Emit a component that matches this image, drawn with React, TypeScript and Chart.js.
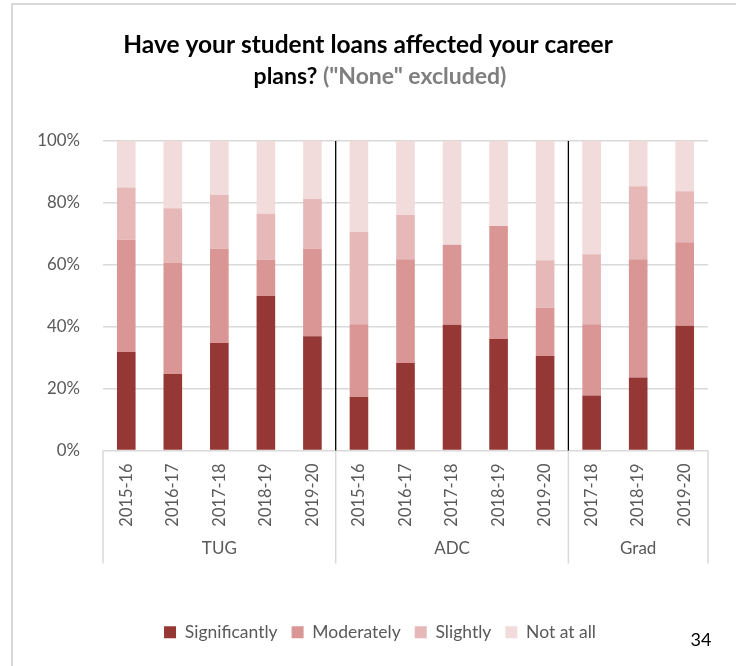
import React, { useEffect, useRef } from "react";
import { Chart, registerables } from "chart.js";

Chart.register(...registerables);

const categories = [
  "2015-16", "2016-17", "2017-18", "2018-19", "2019-20",
  "2015-16", "2016-17", "2017-18", "2018-19", "2019-20",
  "2017-18", "2018-19", "2019-20",
];
const groups = ["TUG", "ADC", "Grad"];
const groupSizes = [5, 5, 3];

const significantly = [31.8, 24.7, 34.7, 49.9, 36.9, 17.3, 28.3, 40.6, 36.0, 30.5, 17.8, 23.6, 40.3];
const moderately = [36.3, 35.9, 30.5, 11.7, 28.3, 23.5, 33.5, 25.9, 36.5, 15.6, 23.0, 38.2, 27.0];
const slightly = [16.9, 17.7, 17.4, 14.9, 16.1, 29.8, 14.3, 0, 0, 15.4, 22.6, 23.6, 16.5];
const notAtAll = [15.0, 21.7, 17.4, 23.5, 18.7, 29.4, 23.9, 33.5, 27.5, 38.5, 36.6, 14.6, 16.2];

const seriesNames = ["Significantly", "Moderately", "Slightly", "Not at all"];
const seriesColors = ["#953735", "#d99694", "#e6b9b8", "#f2dcdb"];

const yTicks = [0, 20, 40, 60, 80, 100];

const titleLine1 = "Have your student loans affected your career";
const titleLine2a = "plans?";
const titleLine2b = '("None" excluded)';
const pageNumber = "34";

const FONT = "Lato, 'Open Sans', sans-serif";

const decorPlugin = {
  id: "decor",
  afterLayout(chart: any) {
    const lg = chart.legend;
    if (lg) {
      lg.left += 26;
      lg.right += 26;
    }
  },
  beforeDraw(chart: any) {
    const ctx = chart.ctx;
    ctx.save();
    ctx.strokeStyle = "#d9d9d9";
    ctx.lineWidth = 2;
    ctx.beginPath();
    ctx.moveTo(12, chart.height + 2);
    ctx.lineTo(12, 4);
    ctx.lineTo(chart.width + 2, 4);
    ctx.stroke();
    ctx.restore();
  },
  afterDraw(chart: any) {
    const ctx = chart.ctx;
    const x = chart.scales.x;
    const area = chart.chartArea;
    ctx.save();
    // title
    ctx.textBaseline = "middle";
    ctx.font = `bold 24.5px ${FONT}`;
    ctx.fillStyle = "#000000";
    ctx.textAlign = "center";
    const cx = chart.width / 2;
    ctx.fillText(titleLine1, cx, 45);
    ctx.font = `bold 23px ${FONT}`;
    const wa = ctx.measureText(titleLine2a + " ").width;
    const wb = ctx.measureText(titleLine2b).width;
    const start = cx + 12 - (wa + wb) / 2;
    ctx.textAlign = "left";
    ctx.fillText(titleLine2a, start, 77);
    ctx.fillStyle = "#7f7f7f";
    ctx.fillText(titleLine2b, start + wa, 77);

    // group boundaries
    const boundaries: number[] = [area.left];
    let idx = 0;
    const centers: number[] = [];
    groupSizes.forEach((n) => {
      const first = idx;
      const last = idx + n - 1;
      idx += n;
      const right = idx < categories.length
        ? (x.getPixelForValue(last) + x.getPixelForValue(idx)) / 2
        : area.right;
      boundaries.push(right);
      centers.push((x.getPixelForValue(first) + x.getPixelForValue(last)) / 2);
    });
    const boxBottom = area.bottom + 113;
    ctx.strokeStyle = "#d9d9d9";
    ctx.lineWidth = 1.5;
    boundaries.forEach((b) => {
      ctx.beginPath();
      ctx.moveTo(b, area.bottom);
      ctx.lineTo(b, boxBottom);
      ctx.stroke();
    });
    ctx.strokeStyle = "#000000";
    ctx.lineWidth = 1.3;
    boundaries.slice(1, -1).forEach((b) => {
      ctx.beginPath();
      ctx.moveTo(b, area.top);
      ctx.lineTo(b, area.bottom);
      ctx.stroke();
    });
    ctx.fillStyle = "#595959";
    ctx.font = `17px ${FONT}`;
    ctx.textAlign = "center";
    groups.forEach((g, i) => {
      ctx.fillText(g, centers[i], area.bottom + 98);
    });
    // page number
    ctx.fillStyle = "#000000";
    ctx.font = `18px ${FONT}`;
    ctx.fillText(pageNumber, 701, 640);
    ctx.restore();
  },
};

export default function App() {
  const ref = useRef<HTMLCanvasElement | null>(null);
  useEffect(() => {
    if (!ref.current) return;
    const data = [significantly, moderately, slightly, notAtAll];
    const chart = new Chart(ref.current, {
      type: "bar",
      data: {
        labels: categories,
        datasets: seriesNames.map((name, i) => ({
          label: name,
          data: data[i],
          backgroundColor: seriesColors[i],
          borderWidth: 0,
          categoryPercentage: 1,
          barPercentage: 0.4,
        })),
      },
      options: {
        animation: false,
        responsive: true,
        maintainAspectRatio: false,
        layout: { padding: { top: 141, left: 0, right: 28, bottom: 15 } },
        plugins: {
          title: { display: false },
          tooltip: { enabled: false },
          legend: {
            position: "bottom",
            labels: {
              boxWidth: 12,
              boxHeight: 12,
              padding: 14,
              color: "#595959",
              font: { family: FONT, size: 17.5 },
            },
          },
        },
        scales: {
          x: {
            stacked: true,
            grid: { display: false, drawTicks: false },
            border: { display: false },
            ticks: {
              color: "#595959",
              font: { family: FONT, size: 16.4 },
              minRotation: 90,
              maxRotation: 90,
              padding: 13,
              autoSkip: false,
            },
            afterFit: (s: any) => { s.height = 159; },
          },
          y: {
            stacked: true,
            min: 0,
            max: 100,
            grid: { color: "#d9d9d9", lineWidth: 1.5, drawTicks: false },
            border: { display: false },
            ticks: {
              stepSize: 20,
              color: "#595959",
              font: { family: FONT, size: 16.8 },
              padding: 23,
              callback: (v: any) => (yTicks.includes(v) ? v + "%" : ""),
            },
            afterFit: (s: any) => { s.width = 103; },
          },
        },
      },
      plugins: [decorPlugin],
    });
    return () => chart.destroy();
  }, []);
  return (
    <div style={{ position: "fixed", left: 0, top: 0, width: 736, height: 666, background: "#fff" }}>
      <canvas ref={ref} style={{ width: 736, height: 666 }} />
    </div>
  );
}
